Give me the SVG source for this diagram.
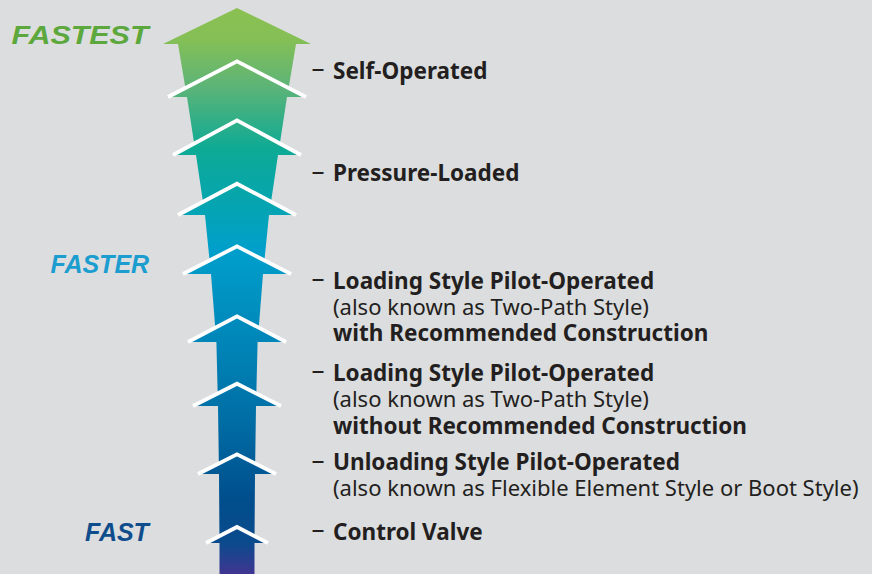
<svg xmlns="http://www.w3.org/2000/svg" width="872" height="574" viewBox="0 0 872 574">
<defs>
<linearGradient id="g" gradientUnits="userSpaceOnUse" x1="0" y1="0" x2="0" y2="574">
<stop offset="0" stop-color="#8dc150"/>
<stop offset="0.07" stop-color="#84bf56"/>
<stop offset="0.15" stop-color="#5db477"/>
<stop offset="0.26" stop-color="#0daa95"/>
<stop offset="0.35" stop-color="#06a5af"/>
<stop offset="0.435" stop-color="#009fcb"/>
<stop offset="0.575" stop-color="#0089bb"/>
<stop offset="0.73" stop-color="#006ea5"/>
<stop offset="0.87" stop-color="#004e8d"/>
<stop offset="0.946" stop-color="#0b4a8c"/>
<stop offset="1" stop-color="#403592"/>
</linearGradient>
<style>
.lbl{font-family:"Noto Sans","Open Sans",sans-serif;font-size:22px;fill:#231f20}
.b{font-weight:bold;font-size:22.5px}
.dash{font-family:"Noto Sans","Open Sans",sans-serif;font-size:26px;fill:#231f20}
.spd{font-family:"Liberation Sans",Arial,sans-serif;font-weight:bold;font-style:italic;font-size:25px}
.chev{fill:none;stroke:#ffffff;stroke-width:3.8;stroke-linejoin:miter}
</style>
</defs>
<rect width="872" height="574" fill="#dcdddf"/>
<g id="arrow">
<path fill="url(#g)" d="M163,44 L237,8 L311,44 Z
M168,97 L237,61.3 L306,97 Z
M173,155 L237,120.3 L301,155 Z
M178,215 L237,183.7 L296,215 Z
M183,274 L237,246.3 L291,274 Z
M188,342 L237,316.3 L286,342 Z
M193,406 L237,383.7 L281,406 Z
M198,474 L237,454.3 L276,474 Z
M206,543 L237,527 L268,543 Z
M178,44 L296,44 L287,97.5 L187,97.5 Z
M187,97 L287,97 L278,155.5 L196,155.5 Z
M196,155 L278,155 L269,215.5 L205,215.5 Z
M205,215 L269,215 L263,274.5 L211,274.5 Z
M211,274 L263,274 L257.6,342.5 L216.4,342.5 Z
M216.4,342 L257.6,342 L256,406.5 L218,406.5 Z
M218,406 L256,406 L255,474.5 L219,474.5 Z
M219,474 L255,474 L254.5,543.5 L219.5,543.5 Z
M219.5,543 L254.5,543 L254.5,574 L219.5,574 Z"/>
<g id="chevrons">
<path class="chev" d="M168,97 L237,61.3 L306,97"/>
<path class="chev" d="M173,155 L237,120.3 L301,155"/>
<path class="chev" d="M178,215 L237,183.7 L296,215"/>
<path class="chev" d="M183,274 L237,246.3 L291,274"/>
<path class="chev" d="M188,342 L237,316.3 L286,342"/>
<path class="chev" d="M193,406 L237,383.7 L281,406"/>
<path class="chev" d="M198,474 L237,454.3 L276,474"/>
<path class="chev" d="M206,543 L237,527 L268,543"/>
</g>
</g>
<g id="speed-labels">
<text class="spd" x="11.5" y="44.3" font-size="24" fill="#5ca83d" textLength="137" lengthAdjust="spacingAndGlyphs">FASTEST</text>
<text class="spd" x="50.5" y="273.3" fill="#1b9dcf">FASTER</text>
<text class="spd" x="85" y="541" fill="#0f4c8c">FAST</text>
</g>
<g id="self-operated">
<text class="dash" x="311.5" y="77">–</text>
<text class="lbl b" x="333" y="78.5">Self-Operated</text>
</g>
<g id="pressure-loaded">
<text class="dash" x="311.5" y="179.5">–</text>
<text class="lbl b" x="333" y="181">Pressure-Loaded</text>
</g>
<g id="loading-with">
<text class="dash" x="311.5" y="287">–</text>
<text class="lbl b" x="333" y="288.5">Loading Style Pilot-Operated</text>
<text class="lbl" x="333" y="314.5">(also known as Two-Path Style)</text>
<text class="lbl b" x="333" y="340.5">with Recommended Construction</text>
</g>
<g id="loading-without">
<text class="dash" x="311.5" y="379">–</text>
<text class="lbl b" x="333" y="380.5">Loading Style Pilot-Operated</text>
<text class="lbl" x="333" y="407">(also known as Two-Path Style)</text>
<text class="lbl b" x="333" y="433.5">without Recommended Construction</text>
</g>
<g id="unloading">
<text class="dash" x="311.5" y="468.5">–</text>
<text class="lbl b" x="333" y="470">Unloading Style Pilot-Operated</text>
<text class="lbl" x="333" y="496">(also known as Flexible Element Style or Boot Style)</text>
</g>
<g id="control-valve">
<text class="dash" x="311.5" y="538">–</text>
<text class="lbl b" x="333" y="539.5">Control Valve</text>
</g>
</svg>
